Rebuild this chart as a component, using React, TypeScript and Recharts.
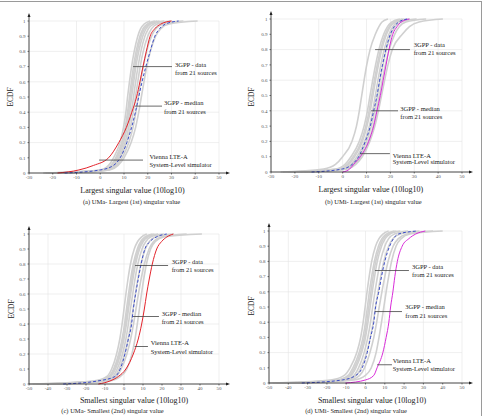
// ECDF of singular values: 3GPP sources vs Vienna LTE-A simulator (4 panels)

import { LineChart, Line, XAxis, YAxis, CartesianGrid, ReferenceLine } from "recharts";

const SERIF = "'Liberation Serif', 'Times New Roman', serif";

const LEVELS = [0, 0.02, 0.05, 0.1, 0.2, 0.3, 0.4, 0.5, 0.6, 0.7, 0.8, 0.9, 0.95, 0.98, 1];
const Y_TICKS = [0, 0.1, 0.2, 0.3, 0.4, 0.5, 0.6, 0.7, 0.8, 0.9, 1];
const X_TICKS_LARGEST = [-30, -20, -10, 0, 10, 20, 30, 40, 50];
const X_TICKS_SMALLEST = [-50, -40, -30, -20, -10, 0, 10, 20, 30, 40, 50];

// (a) UMa largest
const A_VIENNA = [-18, -9, -2.8, 3.5, 7.8, 11, 13.3, 15.3, 16.7, 18, 19.4, 21, 23, 25.5, 30];
const A_MEDIAN = [-15, 0, 5.6, 8.4, 11.2, 13.2, 14.8, 16.2, 17.6, 19.2, 21, 23, 25, 27.5, 33];
const A_SOURCES = [
  [-24, 0, 3.5, 5.6, 8.3, 9.8, 10.8, 11.5, 12.3, 13.2, 14.3, 15.8, 17, 18.5, 21],
  [-23, 1, 4.5, 6.5, 9, 10.5, 11.5, 12.3, 13.1, 14, 15.1, 16.7, 18, 19.8, 23],
  [-21, 1.5, 4.8, 6.9, 9.4, 10.9, 11.9, 12.7, 13.6, 14.5, 15.6, 17.2, 18.6, 20.4, 24],
  [-22, 2, 5, 7.2, 9.8, 11.3, 12.4, 13.2, 14.1, 15, 16.2, 17.9, 19.3, 21.2, 25],
  [-20, 2.5, 5.5, 7.8, 10.4, 12, 13.1, 14, 14.9, 15.9, 17.1, 18.8, 20.3, 22.5, 27],
  [-18, 3, 6, 8.4, 11, 12.7, 13.9, 14.8, 15.8, 16.8, 18.1, 20, 21.6, 24, 30],
  [-16, 3.5, 6.8, 9.2, 12, 13.8, 15, 16, 17, 18.1, 19.5, 21.6, 23.5, 26.5, 35],
  [-15, 4, 7.5, 10, 13, 14.9, 16.2, 17.3, 18.4, 19.6, 21.1, 23.3, 25.5, 29, 41],
];

// (b) UMi largest
const B_VIENNA = [0, 3, 4.6, 7.4, 10.9, 13, 14.4, 15.8, 17, 18.2, 19.4, 21, 22.8, 24.5, 28];
const B_MEDIAN = [-13, 0, 4, 6.7, 9.5, 11.6, 13, 14.4, 15.5, 16.7, 18.1, 20, 21.6, 23.5, 27];
const B_SOURCES = [
  [-26, -8, -3, 0, 3.9, 5.8, 7, 8, 9, 10.1, 11.5, 13.7, 15.2, 16.5, 19],
  [-25, -3, 1, 3.5, 7, 9, 10.4, 11.5, 12.6, 13.8, 15.2, 17.2, 18.8, 20.5, 24],
  [-23, -2, 2, 4.4, 7.8, 9.7, 11.1, 12.2, 13.3, 14.5, 15.9, 17.9, 19.5, 21.5, 25],
  [-22, -1, 2.5, 5, 8.3, 10.2, 11.6, 12.7, 13.8, 15, 16.4, 18.4, 20, 22, 26],
  [-20, 0, 3.5, 6, 9.2, 11.2, 12.6, 13.7, 14.8, 16, 17.4, 19.4, 21, 23, 28],
  [-18, 1, 4.2, 6.8, 10, 12, 13.4, 14.6, 15.7, 16.9, 18.3, 20.3, 22, 24.5, 31],
  [-16, 1.5, 5, 7.6, 10.8, 12.8, 14.2, 15.4, 16.6, 17.9, 19.5, 21.8, 23.7, 26.5, 35],
  [-14, 2, 5.5, 8.2, 11.4, 13.5, 15, 16.3, 17.6, 19, 20.8, 25, 28, 32, 42],
];

// (c) UMa smallest
const C_VIENNA = [-13.5, -7.4, -3, 1, 4.9, 7.5, 9.3, 10.7, 11.9, 13.3, 14.9, 17.2, 19.8, 22.5, 26];
const C_MEDIAN = [-32, -14, -4.7, -2, 0.5, 2.3, 4, 4.9, 6.1, 7.5, 9, 11, 13.7, 17, 22.5];
const C_SOURCES = [
  [-50, -16, -9, -6.5, -3.9, -2.2, -1, 0, 1, 2.1, 3.4, 5.4, 7.2, 9.2, 12],
  [-48, -14, -8, -5.5, -2.8, -1, 0.3, 1.3, 2.4, 3.5, 4.9, 7, 8.8, 11, 15],
  [-46, -13, -7.5, -5, -2.3, -0.5, 0.8, 1.9, 3, 4.1, 5.5, 7.6, 9.4, 11.8, 16],
  [-45, -12, -7, -4.5, -1.8, 0, 1.3, 2.4, 3.5, 4.7, 6.1, 8.2, 10.1, 12.5, 18],
  [-42, -11, -6, -3.6, -0.8, 1, 2.3, 3.4, 4.6, 5.8, 7.3, 9.5, 11.5, 14, 21],
  [-40, -10, -5, -2.6, 0.3, 2.2, 3.6, 4.8, 6, 7.3, 8.9, 11.2, 13.4, 16.5, 26],
  [-38, -9, -4, -1.5, 1.5, 3.5, 5, 6.3, 7.6, 9, 10.7, 13.2, 15.6, 19.5, 33],
  [-35, -8, -2, 1.5, 4.2, 5.8, 7, 8.1, 9.2, 10.4, 11.8, 14, 16.5, 21, 41],
];

// (d) UMi smallest
const D_VIENNA = [-10.4, 0, 4.3, 6, 9, 10.7, 12.1, 13, 14.2, 15.2, 16.5, 19, 22.5, 26, 31];
const D_MEDIAN = [-33, -12, -5, -1.7, 0.9, 2.6, 4.3, 5.2, 6.9, 8.3, 10, 12.5, 14.5, 17, 27];
const D_SOURCES = [
  [-50, -18, -11, -8, -4.5, -2.5, -1.2, -0.2, 0.8, 1.9, 3.2, 5.2, 7, 9, 12],
  [-48, -15, -9, -6.5, -3.3, -1.3, 0, 1, 2, 3.2, 4.6, 6.7, 8.5, 10.8, 15],
  [-46, -14, -8.2, -5.7, -2.6, -0.6, 0.7, 1.7, 2.8, 3.9, 5.3, 7.5, 9.3, 11.8, 16],
  [-45, -13, -7.5, -5, -2, 0, 1.3, 2.4, 3.5, 4.7, 6.1, 8.3, 10.2, 12.7, 18],
  [-42, -11, -6, -3.6, -0.7, 1.2, 2.6, 3.7, 4.9, 6.2, 7.7, 10, 12, 15, 22],
  [-40, -10, -4.8, -2.3, 0.6, 2.5, 4, 5.2, 6.5, 7.9, 9.5, 12, 14.3, 18, 28],
  [-38, -8, -3, -0.5, 2.3, 4.3, 5.8, 7.1, 8.5, 10, 11.7, 14.3, 17, 21.5, 35],
  [-35, -6, 0, 3, 5.5, 7, 8.3, 9.5, 10.7, 12, 13.5, 15.8, 18.5, 23, 40],
];

const RED = "#e3232b";
const MAGENTA = "#d92bd9";
const BLUE = "#3b4cc8";
const GREY = "#d0d0d0";

type Box = { l: number; r: number; t: number; b: number };
type Seg = [[number, number], [number, number]];
type Note = { lines: string[]; left: number; top: number; gap: number };

interface PanelDef {
  left: number;
  top: number;
  width: number;
  height: number;
  plot: Box;
  xTicks: number[];
  sources: number[][];
  median: number[];
  vienna: number[];
  viennaColor: string;
  pointers: Seg[];
  notes: Note[];
  xLabel: string;
  xLabelAt: [number, number];
  yLabelAt: [number, number];
  caption: string;
  captionAt: [number, number];
}

const toPoints = (xs: number[]) => xs.map((x, i) => ({ x, y: LEVELS[i] }));

const PANELS: PanelDef[] = [
  {
    left: 0, top: 0, width: 235, height: 186,
    plot: { l: 29, r: 219, t: 21, b: 173 },
    xTicks: X_TICKS_LARGEST,
    sources: A_SOURCES, median: A_MEDIAN, vienna: A_VIENNA, viennaColor: RED,
    pointers: [
      [[13.8, 0.7], [30.2, 0.7]],
      [[14.6, 0.44], [26, 0.44]],
      [[-0.5, 0.085], [18, 0.085]],
    ],
    notes: [
      { lines: ["3GPP - data", "from 21 sources"], left: 175, top: 64, gap: 8.7 },
      { lines: ["3GPP - median", "from 21 sources"], left: 164, top: 102.7, gap: 8.6 },
      { lines: ["Vienna LTE-A", "System-Level simulator"], left: 149.5, top: 156, gap: 8.6 },
    ],
    xLabel: "Largest singular value (10log10)", xLabelAt: [132.5, 189.5],
    yLabelAt: [10, 97],
    caption: "(a) UMa- Largest (1st) singular value", captionAt: [131.5, 202],
  },
  {
    left: 242, top: 0, width: 235, height: 186,
    plot: { l: 271, r: 462, t: 19, b: 172 },
    xTicks: X_TICKS_LARGEST,
    sources: B_SOURCES, median: B_MEDIAN, vienna: B_VIENNA, viennaColor: MAGENTA,
    pointers: [
      [[13.6, 0.8], [28.2, 0.8]],
      [[11.9, 0.4], [23.2, 0.4]],
      [[7.3, 0.12], [19.8, 0.12]],
    ],
    notes: [
      { lines: ["3GPP - data", "from 21 sources"], left: 413.7, top: 44.2, gap: 8.4 },
      { lines: ["3GPP - median", "from 21 sources"], left: 400.3, top: 108.3, gap: 8.4 },
      { lines: ["Vienna LTE-A", "System-Level simulator"], left: 392.7, top: 155, gap: 6.8 },
    ],
    xLabel: "Largest singular value (10log10)", xLabelAt: [370.8, 188.5],
    yLabelAt: [251, 97],
    caption: "(b) UMi- Largest (1st) singular value", captionAt: [373.3, 202.3],
  },
  {
    left: 0, top: 206, width: 235, height: 192,
    plot: { l: 29, r: 219, t: 234, b: 384 },
    xTicks: X_TICKS_SMALLEST,
    sources: C_SOURCES, median: C_MEDIAN, vienna: C_VIENNA, viennaColor: RED,
    pointers: [
      [[5.8, 0.79], [23.2, 0.79]],
      [[4.7, 0.45], [18.4, 0.45]],
      [[5.6, 0.25], [12.6, 0.25]],
    ],
    notes: [
      { lines: ["3GPP - data", "from 21 sources"], left: 171.7, top: 261, gap: 8.4 },
      { lines: ["3GPP - median", "from 21 sources"], left: 161.7, top: 313.3, gap: 8.4 },
      { lines: ["Vienna LTE-A", "System-Level simulator"], left: 150.7, top: 342.7, gap: 8.6 },
    ],
    xLabel: "Smallest singular value (10log10)", xLabelAt: [134, 400],
    yLabelAt: [11, 309],
    caption: "(c) UMa- Smallest (2nd) singular value", captionAt: [112.5, 411],
  },
  {
    left: 240, top: 206, width: 237, height: 192,
    plot: { l: 269, r: 462, t: 231, b: 383 },
    xTicks: X_TICKS_SMALLEST,
    sources: D_SOURCES, median: D_MEDIAN, vienna: D_VIENNA, viennaColor: MAGENTA,
    pointers: [
      [[4.9, 0.74], [22.5, 0.74]],
      [[4.9, 0.47], [18.9, 0.47]],
      [[6, 0.12], [13.7, 0.12]],
    ],
    notes: [
      { lines: ["3GPP - data", "from 21 sources"], left: 412, top: 266, gap: 8.7 },
      { lines: ["3GPP - median", "from 21 sources"], left: 405.3, top: 306.7, gap: 9 },
      { lines: ["Vienna LTE-A", "System-Level simulator"], left: 392.7, top: 360, gap: 8.7 },
    ],
    xLabel: "Smallest singular value (10log10)", xLabelAt: [372, 400],
    yLabelAt: [251, 306],
    caption: "(d) UMi- Smallest (2nd) singular value", captionAt: [356, 411],
  },
];

const X_AXIS_HEIGHT = 12;
const tickStyle = { fontSize: 5, fill: "#555", fontFamily: SERIF };

function Panel({ p }: { p: PanelDef }) {
  const yAxisWidth = p.plot.l - p.left;
  const margin = {
    top: p.plot.t - p.top,
    right: p.left + p.width - p.plot.r,
    bottom: p.top + p.height - p.plot.b - X_AXIS_HEIGHT,
    left: 0,
  };
  const domain = [p.xTicks[0], p.xTicks[p.xTicks.length - 1]];
  return (
    <div style={{ position: "absolute", left: p.left, top: p.top }}>
      <LineChart width={p.width} height={p.height} margin={margin}>
        <CartesianGrid stroke="#e4e4e4" strokeWidth={0.6} />
        <XAxis
          type="number"
          dataKey="x"
          domain={domain}
          ticks={p.xTicks}
          allowDataOverflow
          height={X_AXIS_HEIGHT}
          tick={tickStyle}
          tickSize={1.5}
          tickMargin={1}
          axisLine={{ stroke: "#222", strokeWidth: 0.8 }}
          tickLine={{ stroke: "#222", strokeWidth: 0.6 }}
        />
        <YAxis
          type="number"
          dataKey="y"
          domain={[0, 1]}
          ticks={Y_TICKS}
          width={yAxisWidth}
          tick={tickStyle}
          tickSize={1.5}
          tickMargin={2}
          axisLine={{ stroke: "#222", strokeWidth: 0.8 }}
          tickLine={{ stroke: "#222", strokeWidth: 0.6 }}
        />
        {p.sources.map((s, i) => (
          <Line
            key={`src${i}`}
            data={toPoints(s)}
            dataKey="y"
            type="monotone"
            stroke={GREY}
            strokeWidth={1.6}
            dot={false}
            isAnimationActive={false}
          />
        ))}
        <Line
          data={toPoints(p.vienna)}
          dataKey="y"
          type="monotone"
          stroke={p.viennaColor}
          strokeWidth={1}
          dot={false}
          isAnimationActive={false}
        />
        <Line
          data={toPoints(p.median)}
          dataKey="y"
          type="monotone"
          stroke={BLUE}
          strokeWidth={1}
          strokeDasharray="3 2"
          dot={false}
          isAnimationActive={false}
        />
        {p.pointers.map((seg, i) => (
          <ReferenceLine
            key={`ptr${i}`}
            segment={[{ x: seg[0][0], y: seg[0][1] }, { x: seg[1][0], y: seg[1][1] }]}
            stroke="#444"
            strokeWidth={0.8}
            ifOverflow="visible"
          />
        ))}
      </LineChart>
    </div>
  );
}

function Texts({ p }: { p: PanelDef }) {
  return (
    <>
      {p.notes.map((n, i) =>
        n.lines.map((line, j) => (
          <div
            key={`${i}-${j}`}
            style={{
              position: "absolute",
              left: n.left,
              top: n.top + j * n.gap - 4.5,
              fontSize: 6.5,
              lineHeight: "9px",
              fontFamily: SERIF,
              color: "#222",
              whiteSpace: "nowrap",
            }}
          >
            {line}
          </div>
        ))
      )}
      <div
        style={{
          position: "absolute",
          left: p.xLabelAt[0],
          top: p.xLabelAt[1],
          transform: "translate(-50%, -50%)",
          fontSize: 8,
          fontFamily: SERIF,
          color: "#222",
          whiteSpace: "nowrap",
        }}
      >
        {p.xLabel}
      </div>
      <div
        style={{
          position: "absolute",
          left: p.yLabelAt[0],
          top: p.yLabelAt[1],
          transform: "translate(-50%, -50%) rotate(-90deg)",
          fontSize: 7.5,
          fontFamily: SERIF,
          color: "#222",
          whiteSpace: "nowrap",
        }}
      >
        ECDF
      </div>
      <div
        style={{
          position: "absolute",
          left: p.captionAt[0],
          top: p.captionAt[1],
          transform: "translate(-50%, -50%)",
          fontSize: 6.5,
          lineHeight: "8px",
          fontFamily: SERIF,
          color: "#222",
          whiteSpace: "nowrap",
        }}
      >
        {p.caption}
      </div>
    </>
  );
}

// axis arrows reaching past the plot area
function Arrows() {
  return (
    <svg width={484} height={416} style={{ position: "absolute", left: 0, top: 0, pointerEvents: "none" }}>
      {PANELS.map((p, i) => {
        const { l, r, t, b } = p.plot;
        const xTip = r + 11;
        const yTip = t - 8;
        return (
          <g key={i} fill="#222" stroke="#222">
            <line x1={r} y1={b} x2={xTip - 2} y2={b} strokeWidth={0.8} />
            <line x1={l} y1={t} x2={l} y2={yTip + 2} strokeWidth={0.8} />
            <polygon points={`${xTip},${b} ${xTip - 4},${b - 1.5} ${xTip - 4},${b + 1.5}`} stroke="none" />
            <polygon points={`${l},${yTip} ${l - 1.5},${yTip + 4} ${l + 1.5},${yTip + 4}`} stroke="none" />
          </g>
        );
      })}
    </svg>
  );
}

export default function App() {
  return (
    <div
      style={{
        position: "absolute",
        left: 0,
        top: 0,
        width: 484,
        height: 416,
        overflow: "hidden",
        background: "#fff",
      }}
    >
      <div style={{ position: "absolute", left: 0, top: 1, width: 482, height: 0, borderTop: "1px solid #9a9a9a" }} />
      <div style={{ position: "absolute", left: 481, top: 1, width: 0, height: 415, borderLeft: "1px solid #9a9a9a" }} />
      {PANELS.map((p, i) => (
        <Panel key={i} p={p} />
      ))}
      <Arrows />
      {PANELS.map((p, i) => (
        <Texts key={i} p={p} />
      ))}
    </div>
  );
}
